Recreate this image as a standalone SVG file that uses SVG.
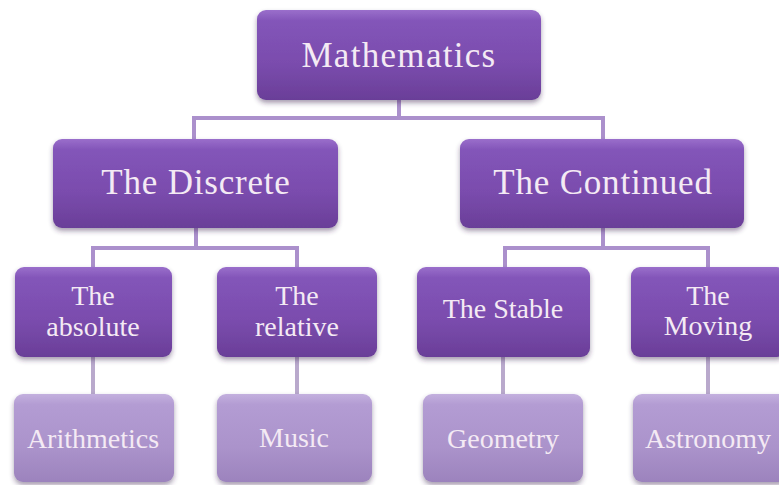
<svg xmlns="http://www.w3.org/2000/svg" width="779" height="485" viewBox="0 0 779 485">
<defs>
<linearGradient id="gDark" x1="0" y1="0" x2="0" y2="1">
<stop offset="0" stop-color="#9a6fcb"/>
<stop offset="0.12" stop-color="#8355b9"/>
<stop offset="0.6" stop-color="#7a4cad"/>
<stop offset="1" stop-color="#6a3e98"/>
</linearGradient>
<linearGradient id="gLight" x1="0" y1="0" x2="0" y2="1">
<stop offset="0" stop-color="#c3b0de"/>
<stop offset="0.12" stop-color="#b39cd3"/>
<stop offset="0.6" stop-color="#ab93cb"/>
<stop offset="1" stop-color="#9c83bd"/>
</linearGradient>
<filter id="sh" x="-10%" y="-10%" width="120%" height="130%">
<feDropShadow dx="0" dy="3" stdDeviation="2.5" flood-color="#3a2350" flood-opacity="0.45"/>
</filter>
</defs>
<rect width="779" height="485" fill="#ffffff"/>
<g id="connectors" fill="none" stroke-width="4">
<path stroke="#ab90cc" d="M399 100V118M194 118H603M194 116V140M603 116V140"/>
<path stroke="#ab90cc" d="M196 228V248M93 248H297M93 246V267M297 246V267"/>
<path stroke="#ab90cc" d="M603 228V248M505 248H708M505 246V267M708 246V267"/>
<path stroke="#b9a9cc" d="M93 357V394M297 357V394M503 357V394M708 357V394"/>
</g>
<g fill="#f4eaf4" text-anchor="middle">
<g id="mathematics">
<rect fill="url(#gDark)" filter="url(#sh)" x="257" y="10" width="284" height="90" rx="9"/>
<text x="399" y="67" font-family="Liberation Serif, serif" font-size="35" letter-spacing="1.3">Mathematics</text>
</g>
<g id="discrete">
<rect fill="url(#gDark)" filter="url(#sh)" x="53" y="139" width="285" height="89" rx="9"/>
<text x="196" y="194" font-family="Liberation Serif, serif" font-size="35" letter-spacing="0.8">The Discrete</text>
</g>
<g id="continued">
<rect fill="url(#gDark)" filter="url(#sh)" x="460" y="139" width="284" height="89" rx="9"/>
<text x="603" y="194" font-family="Liberation Serif, serif" font-size="35" letter-spacing="0.8">The Continued</text>
</g>
<g id="absolute">
<rect fill="url(#gDark)" filter="url(#sh)" x="15" y="267" width="157" height="90" rx="9"/>
<text x="93" y="305" font-family="Liberation Serif, serif" font-size="28">The</text>
<text x="93" y="336" font-family="Liberation Serif, serif" font-size="28">absolute</text>
</g>
<g id="relative">
<rect fill="url(#gDark)" filter="url(#sh)" x="217" y="267" width="160" height="90" rx="9"/>
<text x="297" y="305" font-family="Liberation Serif, serif" font-size="28">The</text>
<text x="297" y="336" font-family="Liberation Serif, serif" font-size="28">relative</text>
</g>
<g id="stable">
<rect fill="url(#gDark)" filter="url(#sh)" x="417" y="267" width="173" height="90" rx="9"/>
<text x="503" y="318" font-family="Liberation Serif, serif" font-size="28">The Stable</text>
</g>
<g id="moving">
<rect fill="url(#gDark)" filter="url(#sh)" x="631" y="267" width="155" height="90" rx="9"/>
<text x="708" y="305" font-family="Liberation Serif, serif" font-size="28">The</text>
<text x="708" y="335" font-family="Liberation Serif, serif" font-size="28">Moving</text>
</g>
<g id="arithmetics">
<rect fill="url(#gLight)" filter="url(#sh)" x="14" y="394" width="160" height="88" rx="9"/>
<text x="93" y="448" font-family="Liberation Serif, serif" font-size="28">Arithmetics</text>
</g>
<g id="music">
<rect fill="url(#gLight)" filter="url(#sh)" x="217" y="394" width="155" height="88" rx="9"/>
<text x="294" y="447" font-family="Liberation Serif, serif" font-size="28">Music</text>
</g>
<g id="geometry">
<rect fill="url(#gLight)" filter="url(#sh)" x="423" y="394" width="160" height="88" rx="9"/>
<text x="503" y="448" font-family="Liberation Serif, serif" font-size="28">Geometry</text>
</g>
<g id="astronomy">
<rect fill="url(#gLight)" filter="url(#sh)" x="633" y="394" width="155" height="88" rx="9"/>
<text x="708" y="448" font-family="Liberation Serif, serif" font-size="28">Astronomy</text>
</g>
</g>
</svg>
